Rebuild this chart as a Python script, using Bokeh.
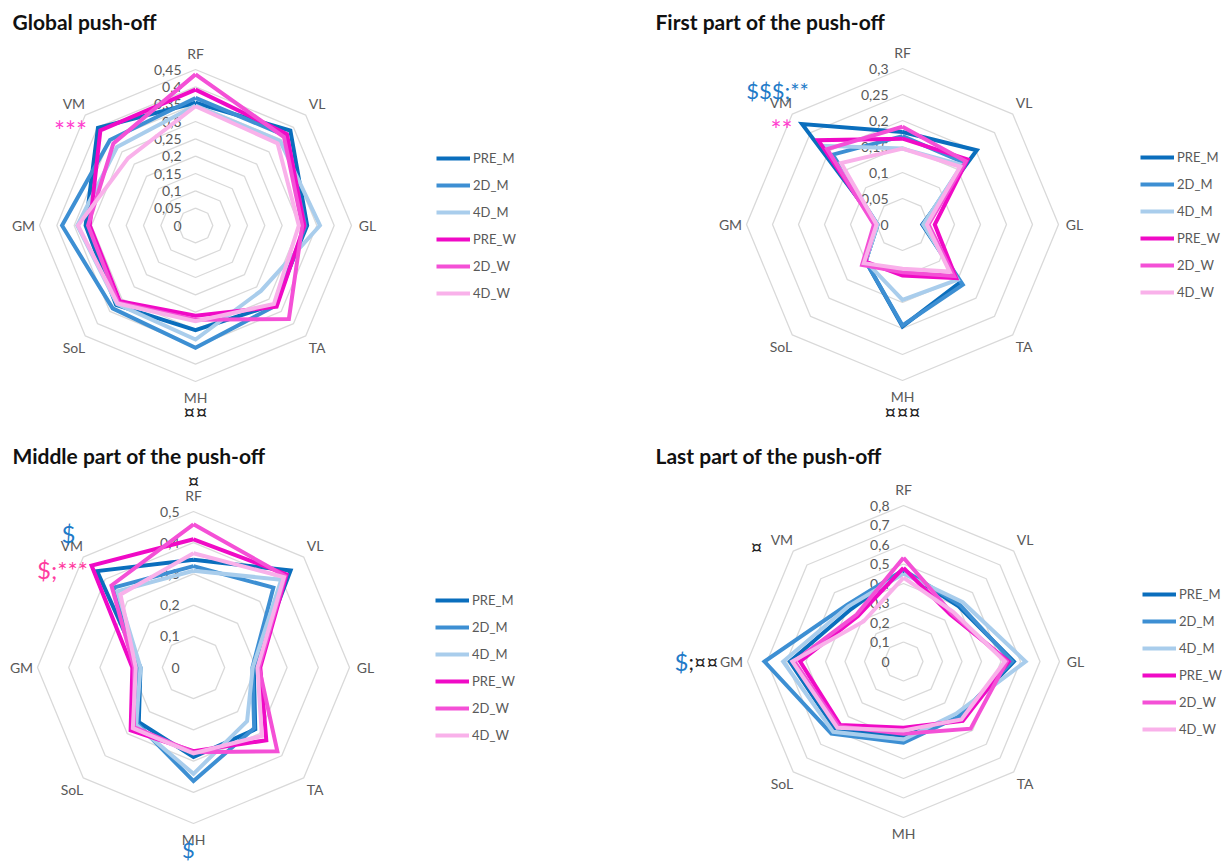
import numpy as np
from bokeh.plotting import figure
from bokeh.models import Range1d, Legend, LegendItem
from bokeh.embed import file_html
from bokeh.resources import INLINE
from bokeh.core.properties import value

# ---------------- data ----------------
muscles = ["RF", "VL", "GL", "TA", "MH", "SoL", "GM", "VM"]
series_names = ["PRE_M", "2D_M", "4D_M", "PRE_W", "2D_W", "4D_W"]

# Global push-off
glob_pre_m = [0.354, 0.387, 0.322, 0.322, 0.302, 0.324, 0.317, 0.398]
glob_2d_m = [0.368, 0.367, 0.317, 0.327, 0.353, 0.338, 0.385, 0.349]
glob_4d_m = [0.346, 0.345, 0.359, 0.267, 0.329, 0.320, 0.341, 0.320]
glob_pre_w = [0.392, 0.373, 0.314, 0.331, 0.260, 0.309, 0.305, 0.388]
glob_2d_w = [0.436, 0.361, 0.308, 0.381, 0.272, 0.315, 0.310, 0.335]
glob_4d_w = [0.344, 0.335, 0.298, 0.320, 0.276, 0.318, 0.339, 0.275]
glob_ticks = [0, 0.05, 0.1, 0.15, 0.2, 0.25, 0.3, 0.35, 0.4, 0.45]
glob_tick_labels = ["0", "0,05", "0,1", "0,15", "0,2", "0,25", "0,3", "0,35", "0,4", "0,45"]

# First part of the push-off
first_pre_m = [0.178, 0.202, 0.038, 0.157, 0.196, 0.100, 0.048, 0.273]
first_2d_m = [0.170, 0.168, 0.040, 0.164, 0.194, 0.100, 0.048, 0.190]
first_4d_m = [0.146, 0.162, 0.040, 0.150, 0.145, 0.100, 0.048, 0.214]
first_pre_w = [0.165, 0.177, 0.062, 0.146, 0.098, 0.101, 0.052, 0.229]
first_2d_w = [0.188, 0.172, 0.050, 0.140, 0.092, 0.110, 0.055, 0.205]
first_4d_w = [0.146, 0.157, 0.047, 0.128, 0.085, 0.105, 0.050, 0.167]
first_ticks = [0, 0.05, 0.1, 0.15, 0.2, 0.25, 0.3]
first_tick_labels = ["0", "0,05", "0,1", "0,15", "0,2", "0,25", "0,3"]

# Middle part of the push-off
mid_pre_m = [0.345, 0.440, 0.193, 0.280, 0.287, 0.248, 0.170, 0.437]
mid_2d_m = [0.325, 0.362, 0.189, 0.275, 0.364, 0.255, 0.175, 0.362]
mid_4d_m = [0.310, 0.398, 0.190, 0.243, 0.341, 0.260, 0.170, 0.345]
mid_pre_w = [0.411, 0.422, 0.214, 0.330, 0.268, 0.285, 0.196, 0.462]
mid_2d_w = [0.459, 0.415, 0.210, 0.380, 0.272, 0.270, 0.190, 0.372]
mid_4d_w = [0.366, 0.410, 0.205, 0.310, 0.275, 0.275, 0.185, 0.331]
mid_ticks = [0, 0.1, 0.2, 0.3, 0.4, 0.5]
mid_tick_labels = ["0", "0,1", "0,2", "0,3", "0,4", "0,5"]

# Last part of the push-off
last_pre_m = [0.465, 0.400, 0.566, 0.410, 0.380, 0.494, 0.583, 0.380]
last_2d_m = [0.470, 0.410, 0.557, 0.400, 0.417, 0.523, 0.713, 0.410]
last_4d_m = [0.450, 0.430, 0.626, 0.380, 0.400, 0.510, 0.617, 0.400]
last_pre_w = [0.480, 0.340, 0.540, 0.430, 0.340, 0.460, 0.530, 0.330]
last_2d_w = [0.532, 0.350, 0.530, 0.487, 0.370, 0.470, 0.560, 0.340]
last_4d_w = [0.430, 0.360, 0.520, 0.420, 0.354, 0.480, 0.570, 0.290]
last_ticks = [0, 0.1, 0.2, 0.3, 0.4, 0.5, 0.6, 0.7, 0.8]
last_tick_labels = ["0", "0,1", "0,2", "0,3", "0,4", "0,5", "0,6", "0,7", "0,8"]

titles = ["Global push-off", "First part of the push-off",
          "Middle part of the push-off", "Last part of the push-off"]

# ---------------- style ----------------
colors = ["#0a6ebd", "#3d8fd3", "#a9cdec", "#f00ac6", "#f450d6", "#f9b1ea"]
FONT = "Lato"
GRID = "#d9d9d9"
TXT = "#595959"
BLUE = "#1f7bc8"
PINK = "#ff3fcf"
R = 156.0
W, H = 1224, 864

p = figure(width=W, height=H, x_range=Range1d(0, W), y_range=Range1d(H, 0),
           output_backend="svg", toolbar_location=None, min_border=0)
p.axis.visible = False
p.grid.visible = False
p.outline_line_color = None

angles = np.deg2rad(90 - 45 * np.arange(8))

panels = [
    dict(c=(195, 225), data=[glob_pre_m, glob_2d_m, glob_4d_m, glob_pre_w, glob_2d_w, glob_4d_w],
         ticks=glob_ticks, labels=glob_tick_labels, title_xy=(12, 21), legend=(436, 561)),
    dict(c=(902, 224), data=[first_pre_m, first_2d_m, first_4d_m, first_pre_w, first_2d_w, first_4d_w],
         ticks=first_ticks, labels=first_tick_labels, title_xy=(655, 21), legend=(1140, 562)),
    dict(c=(193, 667), data=[mid_pre_m, mid_2d_m, mid_4d_m, mid_pre_w, mid_2d_w, mid_4d_w],
         ticks=mid_ticks, labels=mid_tick_labels, title_xy=(12, 455), legend=(435, 119)),
    dict(c=(903, 661), data=[last_pre_m, last_2d_m, last_4d_m, last_pre_w, last_2d_w, last_4d_w],
         ticks=last_ticks, labels=last_tick_labels, title_xy=(655, 455), legend=(1142, 125)),
]

for k, pan in enumerate(panels):
    cx, cy = pan["c"]
    vmax = pan["ticks"][-1]
    scale = R / vmax
    # grid rings
    for t in pan["ticks"][1:]:
        r = t * scale
        xs = list(cx + r * np.cos(angles)) + [cx + r * np.cos(angles[0])]
        ys = list(cy - r * np.sin(angles)) + [cy - r * np.sin(angles[0])]
        p.line(xs, ys, line_color=GRID, line_width=1.3)
    # tick labels
    p.text(x=[cx - 14] * len(pan["ticks"]), y=[cy - t * scale for t in pan["ticks"]],
           text=pan["labels"], text_align="right", text_baseline="middle",
           text_font=value(FONT), text_font_size="14px", text_color=TXT)
    # axis labels
    lr = R + 16
    p.text(x=list(cx + lr * np.cos(angles)), y=list(cy - lr * np.sin(angles)), text=muscles,
           text_align="center", text_baseline="middle", text_font=value(FONT),
           text_font_size="14px", text_color=TXT)
    # series
    items = []
    for name, vals, col in zip(series_names, pan["data"], colors):
        r = np.array(vals) * scale
        xs = list(cx + r * np.cos(angles)) + [cx + r[0] * np.cos(angles[0])]
        ys = list(cy - r * np.sin(angles)) + [cy - r[0] * np.sin(angles[0])]
        rend = p.line(xs, ys, line_color=col, line_width=4, line_join="miter")
        items.append(LegendItem(label=name, renderers=[rend]))
    leg = Legend(items=items, location=pan["legend"], glyph_width=34, glyph_height=20,
                 label_height=20, spacing=7, label_standoff=3, padding=0, margin=0,
                 border_line_alpha=0, background_fill_alpha=0,
                 label_text_font=FONT, label_text_font_size="13px", label_text_color=TXT)
    p.add_layout(leg)
    # title
    tx, ty = pan["title_xy"]
    p.text(x=[tx], y=[ty], text=[titles[k]], text_align="left", text_baseline="middle",
           text_font=value(FONT), text_font_size="21px", text_font_style="bold",
           text_color="#111111")

# significance annotations
def note(x, y, s, color, size, align="center"):
    p.text(x=[x], y=[y], text=[s], text_align=align, text_baseline="middle",
           text_font=value(FONT), text_font_size=size, text_color=color)

note(70, 130, "***", PINK, "26px")
note(195, 411, "¤¤", "#222222", "21px")
note(777, 90, "$$$;**", BLUE, "22px")
note(781, 129, "**", PINK, "26px")
note(902, 411, "¤¤¤", "#222222", "21px")
note(193, 480, "¤", "#222222", "21px")
note(68, 533, "$", BLUE, "24px")
note(62, 569, "$;***", "#ff3c9f", "24px")
note(188, 849, "$", BLUE, "22px")
note(756, 546, "¤", "#222222", "21px")
note(688, 661, "$", BLUE, "24px", "right")
note(688, 661, ";¤¤", "#222222", "21px", "left")

open("out.html", "w").write(file_html(p, INLINE))
